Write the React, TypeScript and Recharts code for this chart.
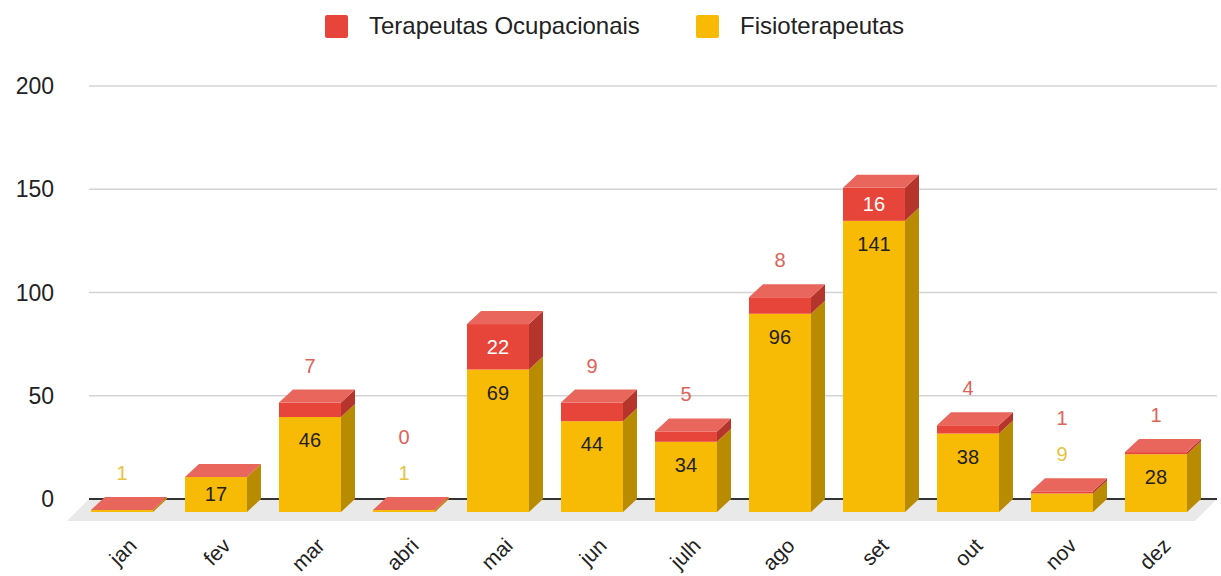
import React from "react";
import { BarChart, Bar, XAxis, YAxis, CartesianGrid } from "recharts";

document.body.style.margin = "0";

const months = ["jan", "fev", "mar", "abri", "mai", "jun", "julh", "ago", "set", "out", "nov", "dez"];
const fisioterapeutas = [1, 17, 46, 1, 69, 44, 34, 96, 141, 38, 9, 28];
const terapeutas = [0, 0, 7, 0, 22, 9, 5, 8, 16, 4, 1, 1];
const terapeutasLabels = ["", "", "7", "0", "22", "9", "5", "8", "16", "4", "1", "1"];
const yTicks = [0, 50, 100, 150, 200];
const seriesNames = ["Terapeutas Ocupacionais", "Fisioterapeutas"];

const data = months.map((m, i) => ({
  month: m,
  fisio: fisioterapeutas[i],
  to: terapeutas[i],
  toLabel: terapeutasLabels[i],
}));

const W = 1221;
const H = 576;
const XAXIS_H = 30;
const MARGIN = { top: 86, right: 4, bottom: 77 - XAXIS_H, left: 0 };
const PLOT_BOTTOM = H - 77;
const DX = 14;
const DY = 13;
const FONT = "'Liberation Sans', Arial, sans-serif";

const YELLOW = "#f8bb05";
const YELLOW_SIDE = "#b88b00";
const RED = "#e8453a";
const RED_TOP = "#e8665b";
const RED_SIDE = "#b5352d";

const FisioShape = (props) => {
  const { x, y, width: w, height: h, payload } = props;
  if (w == null || isNaN(y)) return null;
  const ft = y + DY;
  return (
    <g>
      <rect x={x - DX} y={ft} width={w} height={h} fill={YELLOW} />
      <polygon
        points={`${x + w - DX},${ft} ${x + w},${y} ${x + w},${y + h} ${x + w - DX},${ft + h}`}
        fill={YELLOW_SIDE}
      />
      {payload.fisio >= 12 && (
        <text
          x={x - DX + w / 2}
          y={Math.min(ft + 23, ft + h / 2)}
          textAnchor="middle"
          dominantBaseline="central"
          fontSize={20}
          fontFamily={FONT}
          fill="#222"
        >
          {payload.fisio}
        </text>
      )}
    </g>
  );
};

const ToShape = (props) => {
  const { x, y, width: w, height: h, payload } = props;
  if (w == null || isNaN(y)) return null;
  const hh = h || 0;
  const ft = y + DY;
  let level = ft - 37;
  const labels = [];
  if (payload.fisio < 12) {
    labels.push(
      <text key="f" x={x - DX + w / 2} y={level} textAnchor="middle" dominantBaseline="central"
        fontSize={20} fontFamily={FONT} fill="#e6c440">
        {payload.fisio}
      </text>
    );
    level -= 36;
  }
  if (payload.toLabel !== "" && payload.to < 12) {
    labels.push(
      <text key="t" x={x - DX + w / 2} y={level} textAnchor="middle" dominantBaseline="central"
        fontSize={20} fontFamily={FONT} fill="#dc6358">
        {payload.toLabel}
      </text>
    );
  }
  return (
    <g>
      <rect x={x - DX} y={ft} width={w} height={hh} fill={RED} />
      <polygon
        points={`${x + w - DX},${ft} ${x + w},${y} ${x + w},${y + hh} ${x + w - DX},${ft + hh}`}
        fill={RED_SIDE}
      />
      <polygon
        points={`${x - DX},${ft} ${x},${y} ${x + w},${y} ${x + w - DX},${ft}`}
        fill={RED_TOP}
      />
      {payload.to >= 12 && (
        <text x={x - DX + w / 2} y={ft + hh / 2} textAnchor="middle" dominantBaseline="central"
          fontSize={20} fontFamily={FONT} fill="#fff">
          {payload.toLabel}
        </text>
      )}
      {labels}
    </g>
  );
};

const GridLine = (props) => {
  const { x1, x2, y1 } = props;
  if (Math.abs(y1 - PLOT_BOTTOM) < 1) {
    return (
      <g key={props.key}>
        <polygon
          points={`${x1},${y1} ${x2},${y1} ${x2 - 22},${y1 + 22} ${x1 - 22},${y1 + 22}`}
          fill="#e9e9e9"
        />
        <line x1={x1} x2={x2} y1={y1} y2={y1} stroke="#333" strokeWidth={2} />
      </g>
    );
  }
  return <line key={props.key} x1={x1} x2={x2} y1={y1} y2={y1} stroke="#d3d3d3" strokeWidth={1.5} />;
};

const MonthTick = ({ x, payload }) => (
  <text
    transform={`translate(${x + 2},${PLOT_BOTTOM + 48}) rotate(-45)`}
    textAnchor="end"
    fontSize={21}
    fontFamily={FONT}
    fill="#222"
  >
    {payload.value}
  </text>
);

const legendColors = [RED, YELLOW];
const legendX = [325, 696];

export default function App() {
  return (
    <div style={{ position: "relative", width: W, height: H, background: "#fff" }}>
      {seriesNames.map((name, i) => (
        <div
          key={name}
          style={{
            position: "absolute",
            left: legendX[i],
            top: 12,
            display: "flex",
            alignItems: "center",
            fontFamily: FONT,
            fontSize: 24,
            color: "#222",
            whiteSpace: "nowrap",
          }}
        >
          <span
            style={{
              display: "inline-block",
              width: 23,
              height: 23,
              borderRadius: 2,
              background: legendColors[i],
              marginRight: 21,
            }}
          />
          {name}
        </div>
      ))}
      <BarChart width={W} height={H} data={data} margin={MARGIN} barCategoryGap="17%">
        <CartesianGrid vertical={false} horizontal={GridLine} />
        <XAxis dataKey="month" height={XAXIS_H} axisLine={false} tickLine={false} tick={MonthTick} interval={0} />
        <YAxis
          width={89}
          domain={[0, 200]}
          ticks={yTicks}
          axisLine={false}
          tickLine={false}
          tickSize={0}
          tickMargin={35}
          tick={{ fontSize: 23, fontFamily: FONT, fill: "#222" }}
        />
        <Bar dataKey="fisio" stackId="a" shape={FisioShape} isAnimationActive={false} />
        <Bar dataKey="to" stackId="a" shape={ToShape} isAnimationActive={false} />
      </BarChart>
    </div>
  );
}
